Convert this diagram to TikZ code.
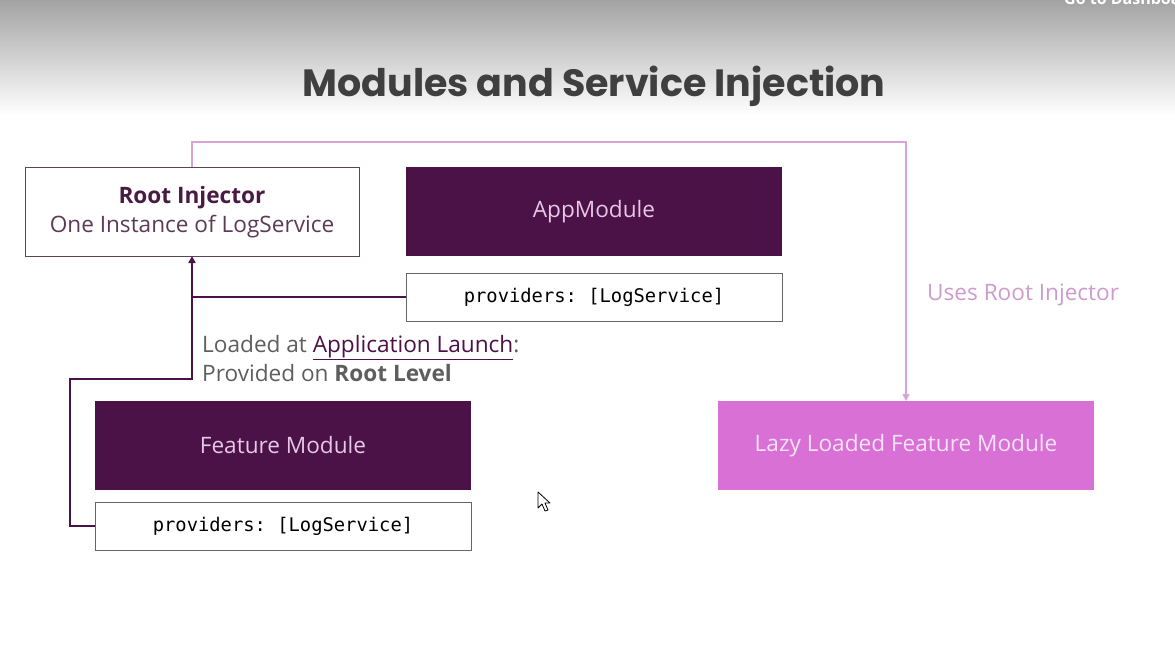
\documentclass[tikz,border=0pt]{standalone}
\usepackage{fontspec}
\setmainfont{Open Sans}
\newfontfamily\titlefont{Poppins}
\setmonofont{DejaVu Sans Mono}
\usetikzlibrary{arrows.meta}

\definecolor{plum}{HTML}{4A1246}
\definecolor{orchid}{HTML}{D870D6}
\definecolor{orchidline}{HTML}{D9A3D9}
\definecolor{plumtext}{HTML}{E7C6E6}
\definecolor{lazytext}{HTML}{F6E2F5}
\definecolor{rootborder}{HTML}{5A4658}
\definecolor{rootbold}{HTML}{4A1A45}
\definecolor{roottext}{HTML}{5C3A58}
\definecolor{notegray}{HTML}{5E5E5E}
\definecolor{titlegray}{HTML}{3F3F3F}

\newcommand{\bodysize}{\fontsize{22.6}{27}\selectfont}

\tikzset{
  boxbase/.style={rectangle, inner sep=0pt, outer sep=0pt, minimum width=376pt, align=center},
  darkmod/.style={boxbase, fill=plum, minimum height=89pt, text=plumtext, font=\bodysize},
  lazymod/.style={boxbase, fill=orchid, minimum height=89pt, text=lazytext, font=\bodysize},
  provbox/.style={boxbase, fill=white, draw=black!60, line width=1pt, minimum height=48pt, font=\ttfamily\fontsize{18.8}{22}\selectfont},
  rootbox/.style={boxbase, fill=white, draw=rootborder, line width=1pt, minimum width=334pt, minimum height=89pt},
  darkline/.style={draw=plum, line width=2pt, -{Triangle[length=7pt,width=7pt]}},
  joinline/.style={draw=plum, line width=2pt},
  pinkline/.style={draw=orchidline, line width=1.5pt, -{Triangle[length=7pt,width=7pt]}},
  note/.style={inner sep=0pt, anchor=base west, font=\bodysize}
}

\begin{document}
\begin{tikzpicture}[x=1pt,y=-1pt]
  \clip (0,0) rectangle (1175,657);
  \fill[white] (0,0) rectangle (1175,657);
  % grey header fading into the white page
  \shade[top color=black!36, bottom color=white] (0,0) rectangle (1175,115);
  \node[anchor=base west, inner sep=0pt, text=white, font=\bfseries\fontsize{16}{18}\selectfont] (dash) at (1064,4) {Go to Dashboard};

  % heading
  \node[inner sep=0pt, text=titlegray, font=\titlefont\bfseries\fontsize{38}{44}\selectfont] (title) at (594,86) {Modules and Service Injection};

  % boxes
  \node[rootbox] (root) at (192,211.5) {};
  \node[anchor=base, inner sep=0pt, text=rootbold, font=\bfseries\bodysize] (rootA) at (192,203) {Root Injector};
  \node[anchor=base, inner sep=0pt, text=roottext, font=\bodysize] (rootB) at (192,232) {One Instance of LogService};

  \node[darkmod] (app) at (594,211.5) {AppModule};
  \node[provbox] (prov1) at (594,297) {providers: [LogService]};

  \node[darkmod] (feat) at (283,445.5) {Feature Module};
  \node[provbox] (prov2) at (283,526) {providers: [LogService]};

  \node[lazymod] (lazy) at (906,445.5) {Lazy Loaded Feature Module};

  % notes
  \node[note, text=notegray] (load) at (202,352) {Loaded at {\color{plum}\underline{Application Launch}}:};
  \node[note, text=notegray] (prov) at (202,381) {Provided on \textbf{Root Level}};
  \node[note, text=orchidline!95!black] (uses) at (927,300) {Uses Root Injector};

  % connectors
  \coordinate (join) at (root.south |- prov1.west);
  \coordinate (bend) at (70,379);
  \draw[joinline] (prov1.west) -- (join);
  \draw[darkline] (prov2.west) -| (bend) -- (root.south |- bend) -- (root.south);
  \draw[pinkline] (root.north) -- ++(0,-25) -| (lazy.north);

  % mouse pointer
  \filldraw[fill=white, draw=black, line width=0.8pt, line join=round]
    (538,492) -- (538,508) -- (542,504) -- (545,511) -- (548,510) -- (545,503) -- (550,503) -- cycle;
\end{tikzpicture}
\end{document}
